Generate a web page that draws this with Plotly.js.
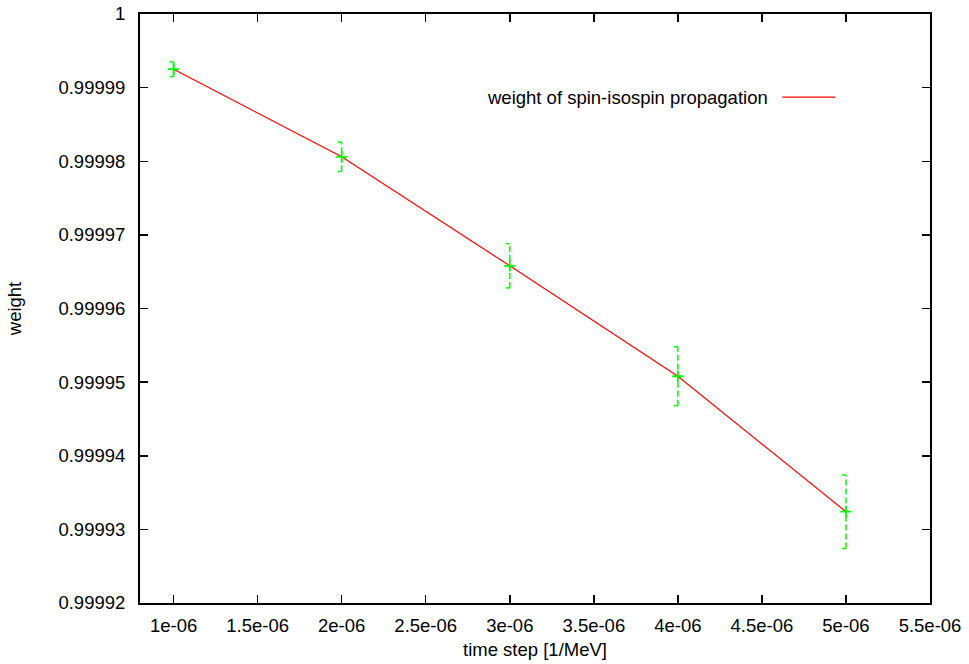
<!DOCTYPE html>
<html>
<head>
<meta charset="utf-8">
<script src="https://cdn.plot.ly/plotly-3.0.1.min.js"></script>
<style>html,body{margin:0;padding:0;background:#fff;}#chart{width:969px;height:664px;}</style>
</head>
<body>
<div id="chart"></div>
<script>
// Data
const timeStep = [1e-6, 2e-6, 3e-6, 4e-6, 5e-6];
const weight = [0.9999925, 0.9999806, 0.9999658, 0.9999508, 0.9999324];
const weightErr = [0.000001, 0.000002, 0.000003, 0.000004, 0.000005];
const xTickVals = [1e-6, 1.5e-6, 2e-6, 2.5e-6, 3e-6, 3.5e-6, 4e-6, 4.5e-6, 5e-6, 5.5e-6];
const xTickText = ["1e-06", "1.5e-06", "2e-06", "2.5e-06", "3e-06", "3.5e-06", "4e-06", "4.5e-06", "5e-06", "5.5e-06"];
const yTickVals = [0.99992, 0.99993, 0.99994, 0.99995, 0.99996, 0.99997, 0.99998, 0.99999, 1];
const yTickText = ["0.99992", "0.99993", "0.99994", "0.99995", "0.99996", "0.99997", "0.99998", "0.99999", "1"];
const seriesName = "weight of spin-isospin propagation";

const green = "#00ff00";
const capLen = 0.024e-6;
const traces = [];

// red line
traces.push({
  x: timeStep, y: weight, type: "scatter", mode: "lines",
  line: {color: "#ff0000", width: 1.2}, showlegend: false, hoverinfo: "skip"
});

// error bars (dashed, gnuplot style)
timeStep.forEach((xv, i) => {
  const lo = weight[i] - weightErr[i], hi = weight[i] + weightErr[i];
  traces.push({
    x: [xv, xv], y: [lo, hi], type: "scatter", mode: "lines",
    line: {color: green, width: 1.5, dash: "6px,3px"}, showlegend: false, hoverinfo: "skip"
  });
  traces.push({
    x: [xv - capLen, xv, null, xv - capLen, xv], y: [lo, lo, null, hi, hi], type: "scatter", mode: "lines",
    line: {color: green, width: 1.5}, showlegend: false, hoverinfo: "skip", connectgaps: false
  });
});

// point markers
traces.push({
  x: timeStep, y: weight, type: "scatter", mode: "markers",
  marker: {symbol: "cross-thin", size: 8, line: {color: green, width: 1.8}, color: green},
  showlegend: false
});

const font = {family: "Liberation Sans, Arial, Helvetica, sans-serif", size: 18.5, color: "#000"};

const layout = {
  width: 969, height: 664,
  margin: {l: 140, r: 39, t: 14, b: 61},
  paper_bgcolor: "#fff", plot_bgcolor: "#fff",
  font: font,
  showlegend: false,
  xaxis: {
    range: [0.8e-6, 5.5e-6], tickmode: "array", tickvals: xTickVals, ticktext: xTickText,
    ticks: "inside", ticklen: 8, tickwidth: 1.5, tickcolor: "#000",
    showline: true, linecolor: "#000", linewidth: 2, mirror: "allticks",
    showgrid: false, zeroline: false, ticklabelstandoff: 5,
    title: {text: "time step [1/MeV]", font: font, standoff: 8},
    tickfont: font
  },
  yaxis: {
    range: [0.99992, 1.0], tickmode: "array", tickvals: yTickVals, ticktext: yTickText,
    ticks: "inside", ticklen: 8, tickwidth: 1.5, tickcolor: "#000",
    showline: true, linecolor: "#000", linewidth: 2, mirror: "allticks",
    showgrid: false, zeroline: false, ticklabelstandoff: 9,
    title: {text: "weight", font: font, standoff: 32},
    tickfont: font
  },
  annotations: [{
    xref: "paper", yref: "paper", x: 0.798, y: 0.859, xanchor: "right", yanchor: "middle",
    text: seriesName, showarrow: false, font: font
  }],
  shapes: [{
    type: "line", xref: "paper", yref: "paper", x0: 0.813, x1: 0.880, y0: 0.859, y1: 0.859,
    line: {color: "#ff0000", width: 1.2}
  }]
};

Plotly.newPlot("chart", traces, layout, {displayModeBar: false, staticPlot: true});
</script>
</body>
</html>
